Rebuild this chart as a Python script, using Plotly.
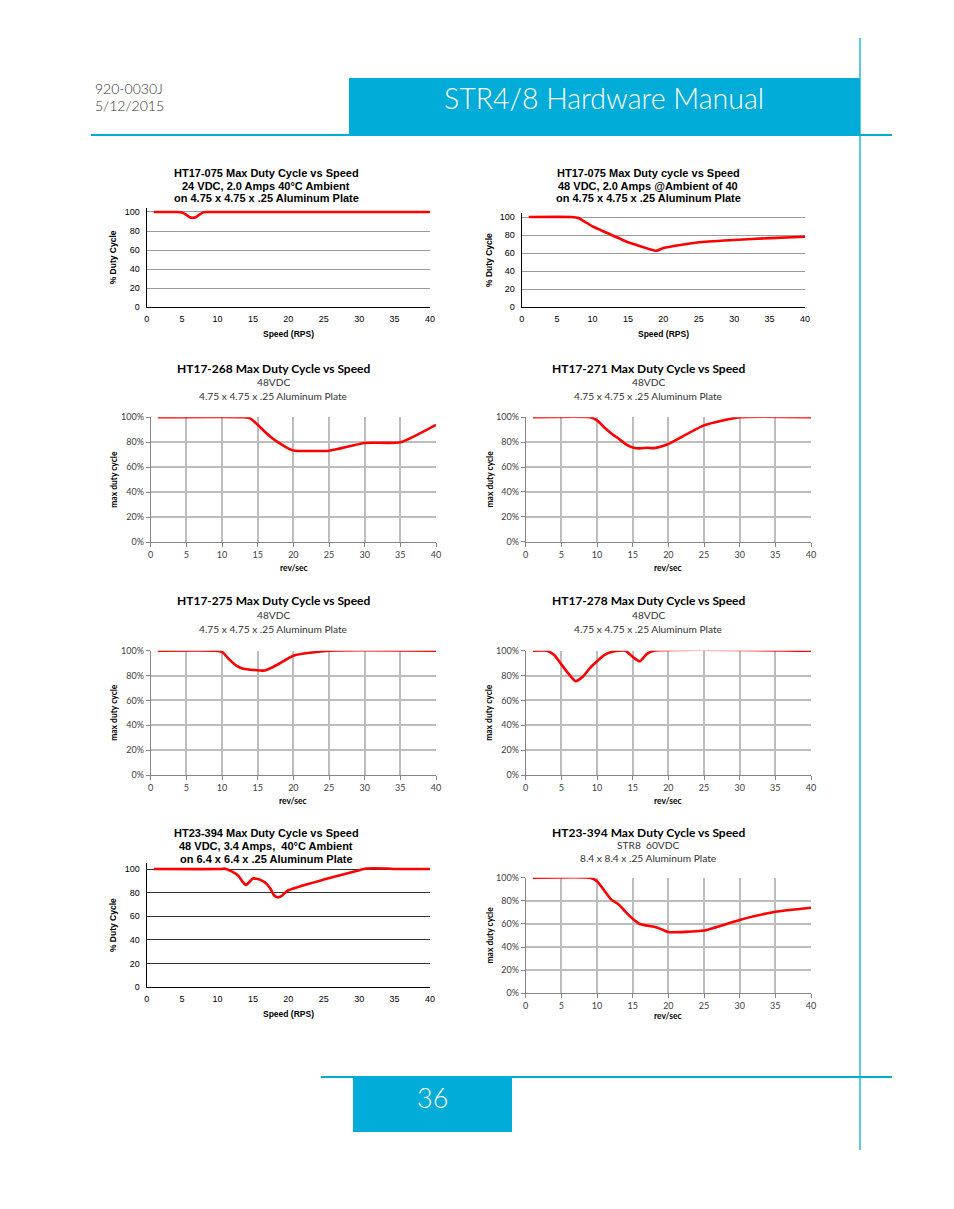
import plotly.graph_objects as go

W, H = 954, 1209

# ---------------- data ----------------
c1_x = [1, 4, 5, 5.5, 6, 6.5, 7, 7.5, 8, 8.5, 10, 40]
c1_y = [100, 100, 99.6, 97.5, 94.8, 94, 94.8, 97.5, 99.6, 100, 100, 100]

c2_x = [1, 7, 8, 10, 12, 15, 16, 19, 20, 25, 30, 35, 40]
c2_y = [100, 100, 99, 89.5, 82.5, 72, 69.5, 62.5, 65.5, 72, 74.5, 76.5, 78]

c3_x = [1, 13, 14, 15, 16, 17, 18, 19, 20, 25, 30, 35, 40]
c3_y = [100, 100, 99, 94, 88.5, 83.5, 79.5, 76, 73.5, 73.3, 79.5, 80, 94]

c4_x = [1, 9, 10, 11, 12, 13, 14, 15, 16, 17, 18, 19, 20, 25, 30, 40]
c4_y = [100, 100, 97.5, 92, 87, 83, 78.5, 75.8, 75, 75.5, 75.2, 76.5, 78.5, 93.5, 100, 100]

c5_x = [1, 9, 10, 11, 12, 13, 16, 17, 18, 20, 25, 40]
c5_y = [100, 100, 99, 93, 88, 85.5, 84, 86.5, 89.5, 96, 100, 100]

c6_x = [1, 3, 4, 5, 6, 7, 8, 9, 10, 11, 12, 13, 14, 15, 16, 17, 18, 40]
c6_y = [100, 100, 96.5, 89, 81.5, 75.5, 79, 86, 91.5, 96.5, 99, 100, 100, 95, 91.5, 97.5, 100, 100]

c7_x = [1, 10.5, 11, 12, 13, 13.5, 14, 14.5, 15, 16, 17, 17.5, 18, 18.5, 19, 20, 25, 30, 31, 34, 35, 40]
c7_y = [100, 100, 100.3, 98, 94, 89.5, 86.5, 89, 92, 91, 87, 83, 77.5, 76, 77, 82, 91, 99, 100.4, 100.4, 100, 100]

c8_x = [1, 9, 10, 11, 12, 13, 14, 15, 16, 18, 19, 20, 25, 30, 35, 40]
c8_y = [100, 100, 97, 89, 81, 77, 70.5, 64.5, 60, 57.5, 55.5, 53, 54.3, 63.5, 70.5, 74]

x_ticks = [0, 5, 10, 15, 20, 25, 30, 35, 40]
y_ticks = [0, 20, 40, 60, 80, 100]
y_tick_labels_num = ["0", "20", "40", "60", "80", "100"]
y_tick_labels_pct = ["0%", "20%", "40%", "60%", "80%", "100%"]

titles = [
    ["HT17-075 Max Duty Cycle vs Speed", "24 VDC, 2.0 Amps 40°C Ambient", "on 4.75 x 4.75 x .25 Aluminum Plate"],
    ["HT17-075 Max Duty cycle vs Speed", "48 VDC, 2.0 Amps @Ambient of 40", "on 4.75 x 4.75 x .25 Aluminum Plate"],
    ["HT17-268 Max Duty Cycle vs Speed", "48VDC", "4.75 x 4.75 x .25 Aluminum Plate"],
    ["HT17-271 Max Duty Cycle vs Speed", "48VDC", "4.75 x 4.75 x .25 Aluminum Plate"],
    ["HT17-275 Max Duty Cycle vs Speed", "48VDC", "4.75 x 4.75 x .25 Aluminum Plate"],
    ["HT17-278 Max Duty Cycle vs Speed", "48VDC", "4.75 x 4.75 x .25 Aluminum Plate"],
    ["HT23-394 Max Duty Cycle vs Speed", "48 VDC, 3.4 Amps,\u00a0 40°C Ambient", "on 6.4 x 6.4 x .25 Aluminum Plate"],
    ["HT23-394 Max Duty Cycle vs Speed", "STR8\u00a0 60VDC", "8.4 x 8.4 x .25 Aluminum Plate"],
]
x_titles = ["Speed (RPS)", "Speed (RPS)", "rev/sec", "rev/sec", "rev/sec", "rev/sec", "Speed (RPS)", "rev/sec"]
y_titles = ["% Duty Cycle", "% Duty Cycle", "max duty cycle", "max duty cycle",
            "max duty cycle", "max duty cycle", "% Duty Cycle", "max duty cycle"]

header_id = "920-0030J"
header_date = "5/12/2015"
header_title = "STR4/8 Hardware Manual"
page_number = "36"

series = [(c1_x, c1_y), (c2_x, c2_y), (c3_x, c3_y), (c4_x, c4_y),
          (c5_x, c5_y), (c6_x, c6_y), (c7_x, c7_y), (c8_x, c8_y)]

# ---------------- layout geometry (pixels) ----------------
geo = [
    (146.7, 430.0, 307.0, 212.0, 104.5, "arial", 266, (173, 186, 198), 113, (288, 334)),
    (521.7, 805.0, 307.0, 217.0, 104.4, "arial", 648, (173, 186, 198), 489, (663, 334)),
    (150.7, 436.0, 542.3, 417.3, 100, "excel", 273, (368, 382, 396), 114, (294, 568)),
    (525.7, 811.0, 541.7, 417.3, 100, "excel", 648, (368, 382, 396), 489, (668, 568)),
    (150.7, 436.0, 775.0, 650.7, 100, "excel", 273, (601, 615, 629), 114, (293, 801)),
    (525.7, 811.0, 775.0, 650.7, 100, "excel", 648, (601, 615, 629), 489, (668, 801)),
    (146.7, 430.0, 987.0, 869.0, 105, "arial7", 266, (833, 846, 859), 113, (288, 1014)),
    (525.7, 811.0, 993.3, 877.7, 100, "excel", 648, (832, 845, 858), 489, (668, 1016)),
]

def fx(p):
    return p / W

def fy(p):
    return 1 - p / H

ARIAL = "Liberation Sans, Arial, sans-serif"
CAL = "Lato, Carlito, Calibri, sans-serif"
BLUE = "#02ACD8"

fig = go.Figure()
layout = dict(
    width=W, height=H, margin=dict(l=0, r=0, t=0, b=0, pad=0, autoexpand=False),
    paper_bgcolor="white", plot_bgcolor="rgba(0,0,0,0)",
    showlegend=False, annotations=[], shapes=[],
)

for i, ((xs, ys), g) in enumerate(zip(series, geo)):
    x0, x40, y0, y100, ymax, style, tcx, tys, ytx, (xtx, xty) = g
    n = i + 1
    xa = "xaxis" if n == 1 else f"xaxis{n}"
    ya = "yaxis" if n == 1 else f"yaxis{n}"
    per = (y0 - y100) / 100.0
    ytop = y0 - ymax * per
    fig.add_trace(go.Scatter(
        x=xs, y=ys, mode="lines", line=dict(color="#FF0000", width=2.6, shape="spline", smoothing=0.5),
        xaxis=f"x{n}" if n > 1 else "x", yaxis=f"y{n}" if n > 1 else "y",
        cliponaxis=False, hoverinfo="skip",
    ))
    if style == "excel":
        gcol = "#BDBDBD"
        xax = dict(domain=[fx(x0), fx(x40)], range=[0, 40], tickmode="array", tickvals=x_ticks,
                   showgrid=True, gridcolor=gcol, gridwidth=1.6,
                   showline=True, linecolor="#868686", linewidth=1,
                   ticks="outside", ticklen=4, tickcolor="#868686",
                   tickfont=dict(family=CAL, size=9, color="#404040"),
                   zeroline=False, fixedrange=True, automargin=False,
                   anchor=f"y{n}" if n > 1 else "y")
        yax = dict(domain=[fy(y0), fy(ytop)], range=[0, ymax], tickmode="array",
                   tickvals=y_ticks, ticktext=y_tick_labels_pct,
                   showgrid=True, gridcolor=gcol, gridwidth=1.6,
                   showline=True, linecolor="#868686", linewidth=1,
                   ticks="outside", ticklen=4, tickcolor="#868686",
                   tickfont=dict(family=CAL, size=9, color="#404040"),
                   zeroline=False, fixedrange=True, automargin=False,
                   anchor=f"x{n}" if n > 1 else "x")
        tfont = dict(family=CAL, size=12, color="black", weight="bold")
        sfont = dict(family=CAL, size=10.2, color="#333333")
        afont = dict(family=CAL, size=8.5, color="black", weight="bold")
        fonts = [tfont, sfont, sfont]
    else:
        gcol = "#333333" if style == "arial7" else "#9A9A9A"
        xax = dict(domain=[fx(x0), fx(x40)], range=[0, 40], tickmode="array", tickvals=x_ticks,
                   showgrid=False, showline=True, linecolor="black", linewidth=1.2,
                   ticks="outside", ticklen=3, tickcolor="rgba(0,0,0,0)",
                   tickfont=dict(family=ARIAL, size=9, color="black"),
                   zeroline=False, fixedrange=True, automargin=False,
                   anchor=f"y{n}" if n > 1 else "y")
        yax = dict(domain=[fy(y0), fy(ytop)], range=[0, ymax], tickmode="array",
                   tickvals=y_ticks, ticktext=y_tick_labels_num,
                   showgrid=True, gridcolor=gcol, gridwidth=1.1,
                   showline=True, linecolor="black", linewidth=1.2,
                   ticks="outside", ticklen=4, tickcolor="rgba(0,0,0,0)",
                   tickfont=dict(family=ARIAL, size=9, color="black"),
                   zeroline=False, fixedrange=True, automargin=False,
                   anchor=f"x{n}" if n > 1 else "x")
        tfont = dict(family=ARIAL, size=11, color="black", weight="bold")
        afont = dict(family=ARIAL, size=8.5, color="black", weight="bold")
        fonts = [tfont, tfont, tfont]
    layout[xa] = xax
    layout[ya] = yax
    for line, yy, f in zip(titles[i], tys, fonts):
        layout["annotations"].append(dict(
            text=line, x=fx(tcx), y=fy(yy), xref="paper", yref="paper",
            xanchor="center", yanchor="middle", showarrow=False, font=f))
    layout["annotations"].append(dict(
        text=y_titles[i], x=fx(ytx), y=fy((y0 + ytop) / 2), xref="paper", yref="paper",
        xanchor="center", yanchor="middle", showarrow=False, textangle=-90, font=afont))
    layout["annotations"].append(dict(
        text=x_titles[i], x=fx(xtx), y=fy(xty), xref="paper", yref="paper",
        xanchor="center", yanchor="middle", showarrow=False, font=afont))

# ---------------- page decorations ----------------
shapes = layout["shapes"]
shapes.append(dict(type="rect", xref="paper", yref="paper", x0=fx(349), x1=fx(860), y0=fy(135), y1=fy(78),
                   fillcolor=BLUE, line=dict(width=0), layer="below"))
shapes.append(dict(type="line", xref="paper", yref="paper", x0=fx(91), x1=fx(892), y0=fy(135), y1=fy(135),
                   line=dict(color=BLUE, width=2)))
shapes.append(dict(type="line", xref="paper", yref="paper", x0=fx(860), x1=fx(860), y0=fy(38), y1=fy(1150),
                   line=dict(color=BLUE, width=1.3)))
shapes.append(dict(type="line", xref="paper", yref="paper", x0=fx(321), x1=fx(892), y0=fy(1077), y1=fy(1077),
                   line=dict(color=BLUE, width=2)))
shapes.append(dict(type="rect", xref="paper", yref="paper", x0=fx(353), x1=fx(512), y0=fy(1132), y1=fy(1077),
                   fillcolor=BLUE, line=dict(width=0), layer="below"))

hfont = dict(family="Lato, Open Sans, sans-serif", size=14, color="#333333", weight=300)
layout["annotations"] += [
    dict(text=header_id, x=fx(93), y=fy(88), xref="paper", yref="paper", xanchor="left", yanchor="middle",
         showarrow=False, font=hfont),
    dict(text=header_date, x=fx(93), y=fy(105), xref="paper", yref="paper", xanchor="left", yanchor="middle",
         showarrow=False, font=hfont),
    dict(text=header_title, x=fx(604), y=fy(98), xref="paper", yref="paper", xanchor="center", yanchor="middle",
         showarrow=False, font=dict(family="Lato, Open Sans, sans-serif", size=28.5, color="white", weight=300)),
    dict(text=page_number, x=fx(432), y=fy(1097), xref="paper", yref="paper", xanchor="center", yanchor="middle",
         showarrow=False, font=dict(family="Lato, Open Sans, sans-serif", size=27, color="white", weight=300)),
]

fig.update_layout(**layout)

post = """
document.documentElement.style.margin='0px';
document.body.style.margin='0px';
document.body.style.padding='0px';
"""
fig.write_html("out.html", config={"displayModeBar": False}, post_script=post)
